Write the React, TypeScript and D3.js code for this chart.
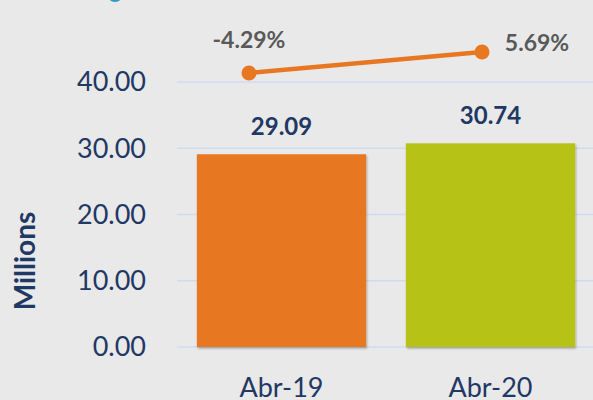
import React from "react";
import * as d3 from "d3";

const categories = ["Abr-19", "Abr-20"];
const barValues = [29.09, 30.74];
const growthValues = [-4.29, 5.69];
const growthLabels = ["-4.29%", "5.69%"];
const yTicks = [0, 10, 20, 30, 40];
const barColors = ["#E87722", "#B7C212"];

const W = 593;
const H = 400;
const NAVY = "#1F3864";
const FONT = "Lato, 'Open Sans', sans-serif";

export default function App() {
  const x = d3.scaleBand<string>().domain(categories).range([177, 595]).paddingInner(0.19).paddingOuter(0.095);
  const y = d3.scaleLinear().domain([0, 40]).range([347, 82]);
  const xLine = d3.scaleLinear().domain([0, 1]).range([249, 482]);
  const y2 = d3.scaleLinear().domain([-30, 30]).range([127.1, 0.9]);
  const line = d3
    .line<number>()
    .x((_, i) => xLine(i))
    .y((d) => y2(d));
  const labelDx = [0, 55];
  const labelBaseline = [48, 51];

  return (
    <svg
      width={W}
      height={H}
      style={{ position: "absolute", left: 0, top: 0, display: "block" }}
      fontFamily={FONT}
    >
      <defs>
        <filter id="sh" x="-5%" y="-5%" width="110%" height="110%">
          <feDropShadow dx="1" dy="1.5" stdDeviation="1" floodColor="#000" floodOpacity="0.3" />
        </filter>
      </defs>
      <rect width={W} height={H} fill="#E9E9E9" />
      <circle cx={115} cy={-6} r={8} fill="#2E9BC6" />
      {yTicks.map((t) => (
        <g key={t}>
          <line x1={177} x2={W} y1={y(t)} y2={y(t)} stroke="#CFDBEE" strokeWidth={1.5} />
          <text x={146} y={y(t)} dy="0.35em" textAnchor="end" fontSize={27} fill={NAVY}>
            {t.toFixed(2)}
          </text>
        </g>
      ))}
      {categories.map((c, i) => (
        <g key={c}>
          <rect
            x={x(c)!}
            y={y(barValues[i])}
            width={x.bandwidth()}
            height={y(0) - y(barValues[i])}
            fill={barColors[i]}
            filter="url(#sh)"
          />
          <text
            x={x(c)! + x.bandwidth() / 2}
            y={y(barValues[i]) - 19}
            textAnchor="middle"
            fontSize={24}
            fontWeight={700}
            fill={NAVY}
          >
            {barValues[i].toFixed(2)}
          </text>
          <text x={x(c)! + x.bandwidth() / 2} y={397} textAnchor="middle" fontSize={27} fill={NAVY}>
            {c}
          </text>
        </g>
      ))}
      <path d={line(growthValues)!} fill="none" stroke="#E87722" strokeWidth={4.5} />
      {growthValues.map((v, i) => (
        <g key={i}>
          <circle cx={xLine(i)} cy={y2(v)} r={7.5} fill="#E87722" />
          <text
            x={xLine(i) + labelDx[i]}
            y={labelBaseline[i]}
            textAnchor="middle"
            fontSize={23}
            fontWeight={700}
            fill="#595959"
          >
            {growthLabels[i]}
          </text>
        </g>
      ))}
      <text
        transform={`translate(35, 261) rotate(-90)`}
        textAnchor="middle"
        fontSize={28}
        fontWeight={700}
        fill={NAVY}
      >
        Millions
      </text>
    </svg>
  );
}
